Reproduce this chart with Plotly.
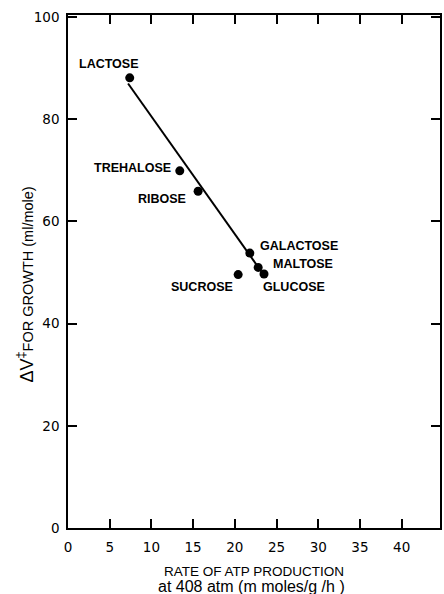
import plotly.graph_objects as go

# Data
sugars = ["LACTOSE", "TREHALOSE", "RIBOSE", "GALACTOSE", "MALTOSE", "GLUCOSE", "SUCROSE"]
atp_rate = [7.4, 13.4, 15.6, 21.8, 22.8, 23.5, 20.4]
delta_v = [88.1, 69.9, 65.9, 53.8, 51.0, 49.7, 49.6]

fit_x = [7.2, 23.4]
fit_y = [87.0, 49.7]

x_ticks = [0, 5, 10, 15, 20, 25, 30, 35, 40]
y_ticks = [0, 20, 40, 60, 80, 100]

# label placement (style): xanchor, xshift, yshift in px
label_style = {
    "LACTOSE": ("right", 11, 14),
    "TREHALOSE": ("right", -7, 3),
    "RIBOSE": ("right", -10, -8),
    "GALACTOSE": ("left", 8, 7),
    "MALTOSE": ("left", 13, 3),
    "GLUCOSE": ("left", -3, -13),
    "SUCROSE": ("right", -3, -12),
}

fig = go.Figure()
fig.add_trace(go.Scatter(x=fit_x, y=fit_y, mode="lines",
                         line=dict(color="black", width=2), hoverinfo="skip"))
fig.add_trace(go.Scatter(x=atp_rate, y=delta_v, mode="markers",
                         marker=dict(color="black", size=9), text=sugars))

for name, xv, yv in zip(sugars, atp_rate, delta_v):
    anc, dx, dy = label_style[name]
    fig.add_annotation(x=xv, y=yv, text=name, showarrow=False, xanchor=anc,
                       yanchor="middle", xshift=dx, yshift=dy,
                       font=dict(family="Liberation Sans", size=12.5, color="black", weight="bold"))

fig.add_annotation(xref="paper", yref="paper", x=0.5, y=0, yanchor="middle",
                   yshift=-43, text="RATE OF ATP PRODUCTION", showarrow=False,
                   font=dict(family="Liberation Sans", size=13.5, color="black"))
fig.add_annotation(xref="paper", yref="paper", x=0.5, y=0, yanchor="middle",
                   xshift=-3, yshift=-58, text="at 408 atm (m moles/g /h )", showarrow=False,
                   font=dict(family="Liberation Sans", size=16, color="black"))
fig.add_annotation(xref="paper", yref="paper", x=0, y=0.5, xanchor="center",
                   yanchor="middle", xshift=-42, yshift=-13, textangle=-90,
                   text="ΔV<sup>‡</sup><span style='font-size:14.5px'>FOR GROWTH (ml/mole)</span>",
                   showarrow=False,
                   font=dict(family="Liberation Sans", size=18, color="black"))

axis_common = dict(showgrid=False, zeroline=False, showline=True, linecolor="black",
                   linewidth=1.6, ticks="inside", ticklen=9, tickwidth=1.5,
                   tickcolor="black", mirror="ticks",
                   tickfont=dict(family="DejaVu Sans", size=13.5, color="black"))

fig.update_xaxes(range=[0, 44.6], tickvals=x_ticks, ticktext=[str(v) for v in x_ticks],
                 ticklabelstandoff=6, **axis_common)
fig.update_yaxes(range=[0, 100.4], tickvals=y_ticks, ticktext=[str(v) for v in y_ticks],
                 ticklabelstandoff=4, **axis_common)

fig.update_layout(width=444, height=594, margin=dict(l=68, r=2, t=15, b=66),
                  plot_bgcolor="white", paper_bgcolor="white", showlegend=False)

fig.write_html("out.html")
